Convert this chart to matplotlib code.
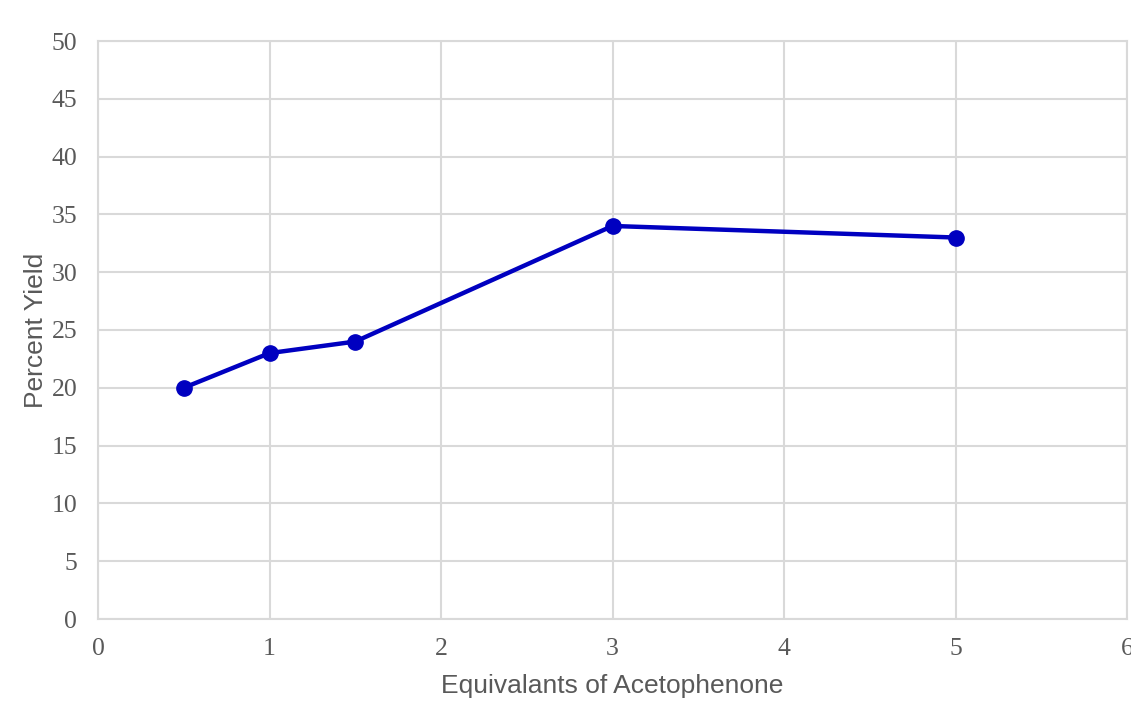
import matplotlib
matplotlib.use("Agg")
import matplotlib.pyplot as plt

x_vals = [0.5, 1, 1.5, 3, 5]
y_vals = [20, 23, 24, 34, 33]
x_ticks = [0, 1, 2, 3, 4, 5, 6]
y_ticks = [0, 5, 10, 15, 20, 25, 30, 35, 40, 45, 50]
x_label = "Equivalants of Acetophenone"
y_label = "Percent Yield"

fig = plt.figure(figsize=(11.31, 7.03), dpi=100)
ax = fig.add_axes([98/1131, 1 - 619/703, (1127-98)/1131, (619-41)/703])

grid_c = "#d9d9d9"
ax.set_xlim(0, 6)
ax.set_ylim(0, 50)
ax.set_xticks(x_ticks)
ax.set_yticks(y_ticks)
ax.grid(True, color=grid_c, linewidth=1.5)
ax.set_axisbelow(True)
for s in ax.spines.values():
    s.set_color(grid_c)
    s.set_linewidth(1.5)
ax.tick_params(length=0, labelsize=18.5, labelcolor="#595959")
ax.tick_params(axis="y", pad=15)
ax.tick_params(axis="x", pad=14)
for lab in ax.get_xticklabels() + ax.get_yticklabels():
    lab.set_fontfamily("Liberation Serif")

ax.plot(x_vals, y_vals, color="#0000C0", linewidth=3.2, marker="o", markersize=11, zorder=3, clip_on=False)

ax.set_xlabel(x_label, fontsize=19, color="#595959", family="Liberation Sans", labelpad=10)
ax.set_ylabel(y_label, fontsize=19, color="#595959", family="Liberation Sans", labelpad=2.5)

fig.savefig("out.png", dpi=100)
